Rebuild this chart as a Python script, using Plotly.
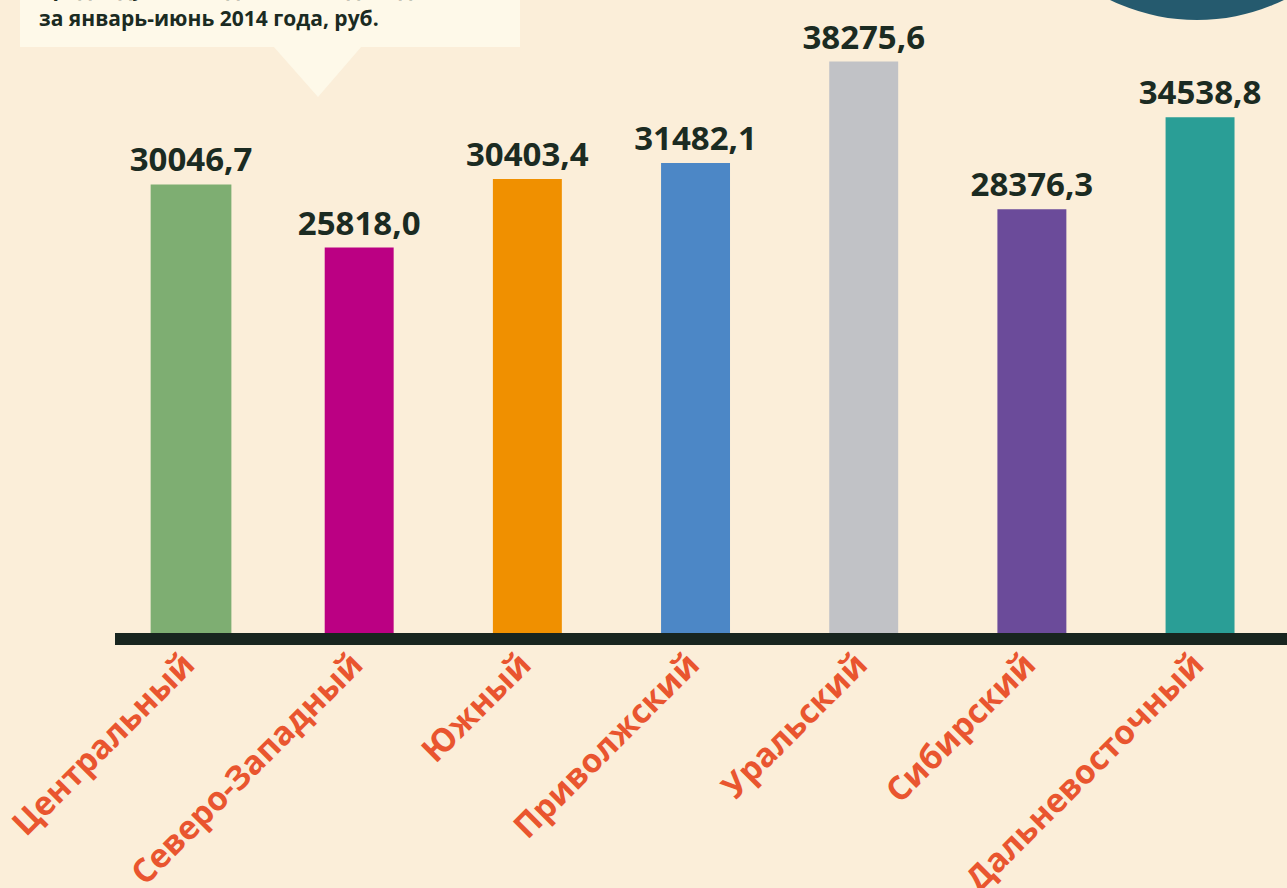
import plotly.graph_objects as go

# Data
districts = ["Центральный", "Северо-Западный", "Южный", "Приволжский",
             "Уральский", "Сибирский", "Дальневосточный"]
values = [30046.7, 25818.0, 30403.4, 31482.1, 38275.6, 28376.3, 34538.8]
bar_colors = ["#7eae72", "#bb0083", "#f09000", "#4c87c6",
              "#c1c2c6", "#6b4b9a", "#2a9e96"]
title_hidden = "Среднедушевые денежные доходы населения"
title_line = "за январь-июнь 2014 года, руб."

W, H = 1287, 888
L, B = 115, 255  # plot area: x 115..1287, y 0..633
PW, PH = W - L, H - B


def px(x):
    return (x - L) / PW


def py(y):
    return (H - B - y) / PH


fig = go.Figure(go.Bar(
    x=districts,
    y=values,
    marker=dict(color=bar_colors, line=dict(width=0)),
    width=[0.48, 0.41, 0.41, 0.41, 0.41, 0.41, 0.41],
    texttemplate="%{y:.1f}",
    textposition="outside",
    constraintext="none",
    cliponaxis=False,
    textfont=dict(family="Open Sans", size=33, color="#1b2b22", weight="bold"),
    hoverinfo="skip",
))

bg = "#fbeed9"
title_font = dict(family="Open Sans", size=21, color="#1b2b22", weight="bold")
fig.update_layout(
    width=W, height=H,
    autosize=False,
    margin=dict(l=L, r=0, t=0, b=B, pad=0, autoexpand=False),
    paper_bgcolor=bg, plot_bgcolor="rgba(0,0,0,0)",
    separators=", ",
    showlegend=False,
    xaxis=dict(
        type="category",
        range=[-0.452, 6.517],
        automargin=False,
        showgrid=False, zeroline=False,
        showline=True, linewidth=12, linecolor="#18251f",
        tickangle=-45,
        tickfont=dict(family="Open Sans", size=33, color="#e9552f", weight="bold"),
        ticks="", ticklen=0,
        ticklabelstandoff=-13,
        ticklabelshift=-6,
    ),
    yaxis=dict(
        range=[0, 42400], visible=False, showgrid=False, zeroline=False,
        automargin=False,
    ),
    shapes=[
        # dark circle top-right
        dict(type="circle", xref="paper", yref="paper",
             x0=px(998), x1=px(1396), y0=py(20), y1=py(-378),
             fillcolor="#255a6e", line=dict(width=0), layer="below"),
        # callout box
        dict(type="rect", xref="paper", yref="paper",
             x0=px(20), x1=px(520), y0=py(47), y1=py(-10),
             fillcolor="#fef9e9", line=dict(width=0), layer="below"),
        dict(type="path", xref="paper", yref="paper",
             path=f"M {px(273)} {py(46)} L {px(362)} {py(46)} L {px(318)} {py(97)} Z",
             fillcolor="#fef9e9", line=dict(width=0), layer="below"),
    ],
    annotations=[
        dict(text=title_hidden, xref="paper", yref="paper",
             x=px(37), y=py(4), xanchor="left", yanchor="bottom", align="left",
             showarrow=False, font=title_font),
        dict(text=title_line, xref="paper", yref="paper",
             x=px(37), y=py(34), xanchor="left", yanchor="bottom", align="left",
             showarrow=False, font=title_font),
    ],
)

fig.write_html(
    "out.html",
    config={"responsive": False, "displayModeBar": False},
    post_script="document.body.style.margin='0';document.body.style.overflow='hidden';",
)
